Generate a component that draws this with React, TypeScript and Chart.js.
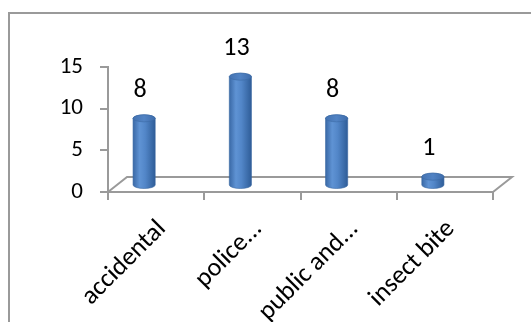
import React, { useEffect, useRef } from "react";
import { Chart, registerables } from "chart.js";

Chart.register(...registerables);

const categories = ["accidental", "police...", "public and...", "insect bite"];
const values = [8, 13, 8, 1];
const yTicks = [0, 5, 10, 15];

const FONT = "Carlito, Lato, 'Liberation Sans', sans-serif";
const AXIS_GRAY = "#9a9a9a";

function drawCylinder(ctx: CanvasRenderingContext2D, cx: number, topY: number, baseY: number, w: number, ry: number) {
  const rx = w / 2;
  const left = cx - rx;
  const right = cx + rx;
  const grad = ctx.createLinearGradient(left, 0, right, 0);
  grad.addColorStop(0, "#3a69a6");
  grad.addColorStop(0.3, "#5f93d4");
  grad.addColorStop(0.55, "#5286c8");
  grad.addColorStop(1, "#2f5d98");
  ctx.save();
  ctx.beginPath();
  ctx.moveTo(left, topY);
  ctx.lineTo(left, baseY);
  ctx.ellipse(cx, baseY, rx, ry, 0, Math.PI, 0, true);
  ctx.lineTo(right, topY);
  ctx.ellipse(cx, topY, rx, ry, 0, 0, Math.PI, true);
  ctx.closePath();
  ctx.fillStyle = grad;
  ctx.fill();
  ctx.lineWidth = 0.6;
  ctx.strokeStyle = "#35649f";
  ctx.stroke();
  const tg = ctx.createLinearGradient(left, topY, right, topY);
  tg.addColorStop(0, "#4473b2");
  tg.addColorStop(0.5, "#5183c4");
  tg.addColorStop(1, "#3e6cab");
  ctx.beginPath();
  ctx.ellipse(cx, topY, rx, ry, 0, 0, Math.PI * 2);
  ctx.fillStyle = tg;
  ctx.fill();
  ctx.strokeStyle = "#3b69a5";
  ctx.stroke();
  ctx.restore();
}

const cylinderPlugin = {
  id: "cylinders",
  beforeDatasetsDraw(chart: any) {
    const { ctx, chartArea } = chart;
    const depthX = 19;
    const depthY = 15;
    ctx.save();
    ctx.strokeStyle = AXIS_GRAY;
    ctx.lineWidth = 2;
    ctx.beginPath();
    ctx.moveTo(chartArea.left, chartArea.bottom);
    ctx.lineTo(chartArea.left + depthX, chartArea.bottom - depthY);
    ctx.lineTo(chartArea.right + depthX, chartArea.bottom - depthY);
    ctx.lineTo(chartArea.right, chartArea.bottom);
    ctx.stroke();
    ctx.restore();
  },
  afterDatasetsDraw(chart: any) {
    const { ctx } = chart;
    const meta = chart.getDatasetMeta(0);
    const yScale = chart.scales.y;
    const floorShift = 7;
    const xShift = -12;
    meta.data.forEach((el: any, i: number) => {
      const cx = el.x + xShift;
      const topY = yScale.getPixelForValue(values[i]) - floorShift;
      const baseY = yScale.getPixelForValue(0) - floorShift;
      drawCylinder(ctx, cx, topY, baseY, el.width, 3.5);
      ctx.save();
      ctx.fillStyle = "#000";
      ctx.font = `26px ${FONT}`;
      ctx.textAlign = "center";
      ctx.textBaseline = "middle";
      ctx.fillText(String(values[i]), cx - 4, topY - 28);
      ctx.restore();
    });
  },
};

export default function App() {
  const ref = useRef<HTMLCanvasElement>(null);
  useEffect(() => {
    if (!ref.current) return;
    const chart = new Chart(ref.current, {
      type: "bar",
      data: {
        labels: categories,
        datasets: [
          {
            data: values,
            backgroundColor: "rgba(0,0,0,0)",
            borderWidth: 0,
            categoryPercentage: 1,
            barPercentage: 0.23,
          },
        ],
      },
      options: {
        responsive: false,
        animation: false,
        events: [],
        layout: { padding: { left: 0, top: 67, right: 38, bottom: 0 } },
        plugins: { legend: { display: false }, tooltip: { enabled: false }, title: { display: false } },
        scales: {
          x: {
            grid: { display: true, drawOnChartArea: false, drawTicks: true, tickLength: 8, color: AXIS_GRAY, lineWidth: 2, offset: true },
            border: { display: true, color: AXIS_GRAY, width: 2 },
            ticks: {
              color: "#000",
              font: { family: FONT, size: 26 },
              maxRotation: 45,
              minRotation: 45,
              padding: 14,
              labelOffset: 6,
              autoSkip: false,
            },
            afterFit(scale: any) {
              scale.height = 130;
            },
          },
          y: {
            min: 0,
            max: 15,
            afterBuildTicks(scale: any) {
              scale.ticks = yTicks.map((v) => ({ value: v }));
            },
            grid: { display: true, drawOnChartArea: false, drawTicks: true, tickLength: 8, color: AXIS_GRAY, lineWidth: 2 },
            border: { display: true, color: AXIS_GRAY, width: 2 },
            ticks: { color: "#000", font: { family: FONT, size: 23 }, padding: 17 },
            afterFit(scale: any) {
              scale.width = 108;
            },
          },
        },
      },
      plugins: [cylinderPlugin],
    });
    return () => chart.destroy();
  }, []);

  return (
    <div style={{ position: "fixed", left: 0, top: 0, width: 531, height: 322, overflow: "hidden", background: "#fff" }}>
      <div
        style={{
          position: "absolute",
          left: 8,
          top: 12,
          width: 700,
          height: 500,
          border: `2px solid ${AXIS_GRAY}`,
          boxSizing: "border-box",
        }}
      />
      <canvas ref={ref} width={531} height={322} style={{ position: "absolute", left: 0, top: 0, width: 531, height: 322 }} />
    </div>
  );
}
